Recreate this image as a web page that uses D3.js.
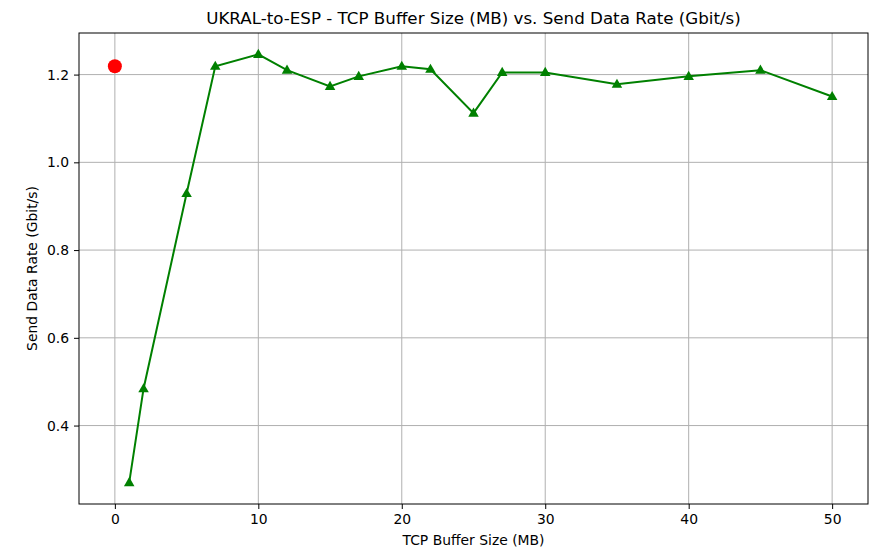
<!DOCTYPE html>
<html>
<head>
<meta charset="utf-8">
<script src="https://cdn.jsdelivr.net/npm/d3@7"></script>
<style>
  body { margin: 0; background: #fff; }
  text { font-family: "DejaVu Sans", sans-serif; fill: #000; }
</style>
</head>
<body>
<div id="chart"></div>
<script>
var bufferSizes = [1, 2, 5, 7, 10, 12, 15, 17, 20, 22, 25, 27, 30, 35, 40, 45, 50];
var sendRates = [0.27, 0.484, 0.929, 1.219, 1.246, 1.21, 1.173, 1.196, 1.219, 1.212, 1.112, 1.205, 1.205, 1.178, 1.196, 1.21, 1.15];
var highlight = [{ size: 0, rate: 1.219 }];
var xTicks = [0, 10, 20, 30, 40, 50];
var yTicks = [0.4, 0.6, 0.8, 1.0, 1.2];

var width = 873,
	height = 549;
var margin = { top: 33, right: 5, bottom: 45, left: 79 };

var svg = d3.select("#chart")
	.append("svg")
	.attr("width", width)
	.attr("height", height);

var x = d3.scaleLinear().domain([-2.5, 52.5]).range([margin.left, width - margin.right]);
var y = d3.scaleLinear().domain([0.2212, 1.2948]).range([height - margin.bottom, margin.top]);

var data = bufferSizes.map(function(d, i) {
	return { size: d, rate: sendRates[i] };
});

// grid
svg.append("g")
	.selectAll("line.vx")
	.data(xTicks)
	.enter().append("line")
	.attr("x1", function(d) { return x(d); })
	.attr("x2", function(d) { return x(d); })
	.attr("y1", margin.top)
	.attr("y2", height - margin.bottom)
	.attr("stroke", "#b0b0b0")
	.attr("stroke-width", 1);

svg.append("g")
	.selectAll("line.hy")
	.data(yTicks)
	.enter().append("line")
	.attr("x1", margin.left)
	.attr("x2", width - margin.right)
	.attr("y1", function(d) { return y(d); })
	.attr("y2", function(d) { return y(d); })
	.attr("stroke", "#b0b0b0")
	.attr("stroke-width", 1);

// axes
var xAxis = svg.append("g")
	.attr("transform", "translate(0," + (height - margin.bottom) + ")")
	.call(d3.axisBottom(x).tickValues(xTicks).tickSize(5).tickSizeOuter(0).tickPadding(5).tickFormat(d3.format("d")));

var yAxis = svg.append("g")
	.attr("transform", "translate(" + margin.left + ",0)")
	.call(d3.axisLeft(y).tickValues(yTicks).tickSize(5).tickSizeOuter(0).tickPadding(5).tickFormat(d3.format(".1f")));

[xAxis, yAxis].forEach(function(a) {
	a.select(".domain").remove();
	a.selectAll("text").attr("font-size", 13.9).attr("font-family", "DejaVu Sans, sans-serif").attr("fill", "#000");
	a.selectAll("line").attr("stroke", "#000").attr("stroke-width", 1);
});

// frame
svg.append("rect")
	.attr("x", margin.left)
	.attr("y", margin.top)
	.attr("width", width - margin.right - margin.left)
	.attr("height", height - margin.bottom - margin.top)
	.attr("fill", "none")
	.attr("stroke", "#000")
	.attr("stroke-width", 1);

// line
var line = d3.line()
	.x(function(d) { return x(d.size); })
	.y(function(d) { return y(d.rate); });

svg.append("path")
	.datum(data)
	.attr("d", line)
	.attr("fill", "none")
	.attr("stroke", "green")
	.attr("stroke-width", 2);

var tri = d3.symbol().type(d3.symbolTriangle).size(48);

svg.selectAll(".pt")
	.data(data)
	.enter().append("path")
	.attr("class", "pt")
	.attr("d", tri)
	.attr("transform", function(d) { return "translate(" + x(d.size) + "," + (y(d.rate) + 0.5) + ")"; })
	.attr("fill", "green");

svg.selectAll(".hl")
	.data(highlight)
	.enter().append("circle")
	.attr("class", "hl")
	.attr("cx", function(d) { return x(d.size); })
	.attr("cy", function(d) { return y(d.rate); })
	.attr("r", 7)
	.attr("fill", "red");

// labels
svg.append("text")
	.attr("x", (margin.left + width - margin.right) / 2)
	.attr("y", 24)
	.attr("text-anchor", "middle")
	.attr("font-size", 16.7)
	.text("UKRAL-to-ESP - TCP Buffer Size (MB) vs. Send Data Rate (Gbit/s)");

svg.append("text")
	.attr("x", (margin.left + width - margin.right) / 2)
	.attr("y", 545)
	.attr("text-anchor", "middle")
	.attr("font-size", 13.9)
	.text("TCP Buffer Size (MB)");

svg.append("text")
	.attr("transform", "translate(37," + ((margin.top + height - margin.bottom) / 2) + ") rotate(-90)")
	.attr("text-anchor", "middle")
	.attr("font-size", 13.9)
	.text("Send Data Rate (Gbit/s)");
</script>
</body>
</html>
